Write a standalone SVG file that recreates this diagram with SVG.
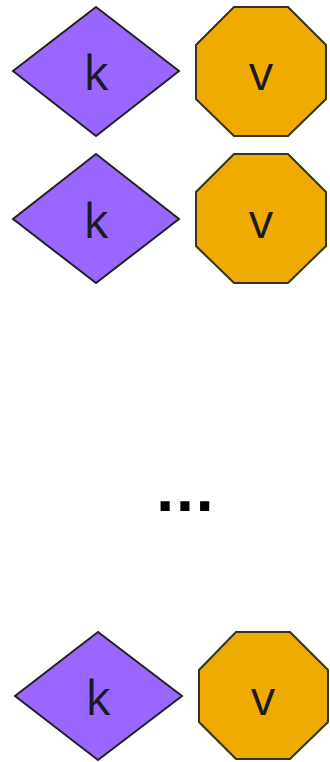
<svg xmlns="http://www.w3.org/2000/svg" width="330" height="762" viewBox="0 0 330 762">
<style>
.k{fill:#9966ff;stroke:#222222;stroke-width:2}
.v{fill:#f0ab00;stroke:#333322;stroke-width:2}
.t{font-family:"Open Sans","DejaVu Sans",sans-serif;font-size:48px;text-anchor:middle;fill:#1a1a2a}
.d{font-family:"DejaVu Sans",sans-serif;font-weight:bold;font-size:52px;text-anchor:middle;fill:#000}
</style>
<rect width="330" height="762" fill="#ffffff"/>
<g id="connectors"></g>
<g id="k1"><polygon class="k" points="96,7 179,71 96,136 13,71"/><text class="t" x="96" y="90">k</text></g>
<g id="v1"><polygon class="v" points="234,7 288,7 326,45 326,99 288,136 234,136 196,99 196,45"/><text class="t" x="261" y="90">v</text></g>
<g id="k2"><polygon class="k" points="96,154 179,219 96,283 13,219"/><text class="t" x="96" y="238">k</text></g>
<g id="v2"><polygon class="v" points="234,154 288,154 326,192 326,246 288,283 234,283 196,246 196,192"/><text class="t" x="261" y="238">v</text></g>
<g id="ellipsis"><text class="d" x="185" y="511">...</text></g>
<g id="k3"><polygon class="k" points="98,632 182,696 98,760 15,696"/><text class="t" x="98" y="715">k</text></g>
<g id="v3"><polygon class="v" points="236,632 290,632 328,670 328,722 290,759 236,759 199,722 199,670"/><text class="t" x="263" y="715">v</text></g>
</svg>
